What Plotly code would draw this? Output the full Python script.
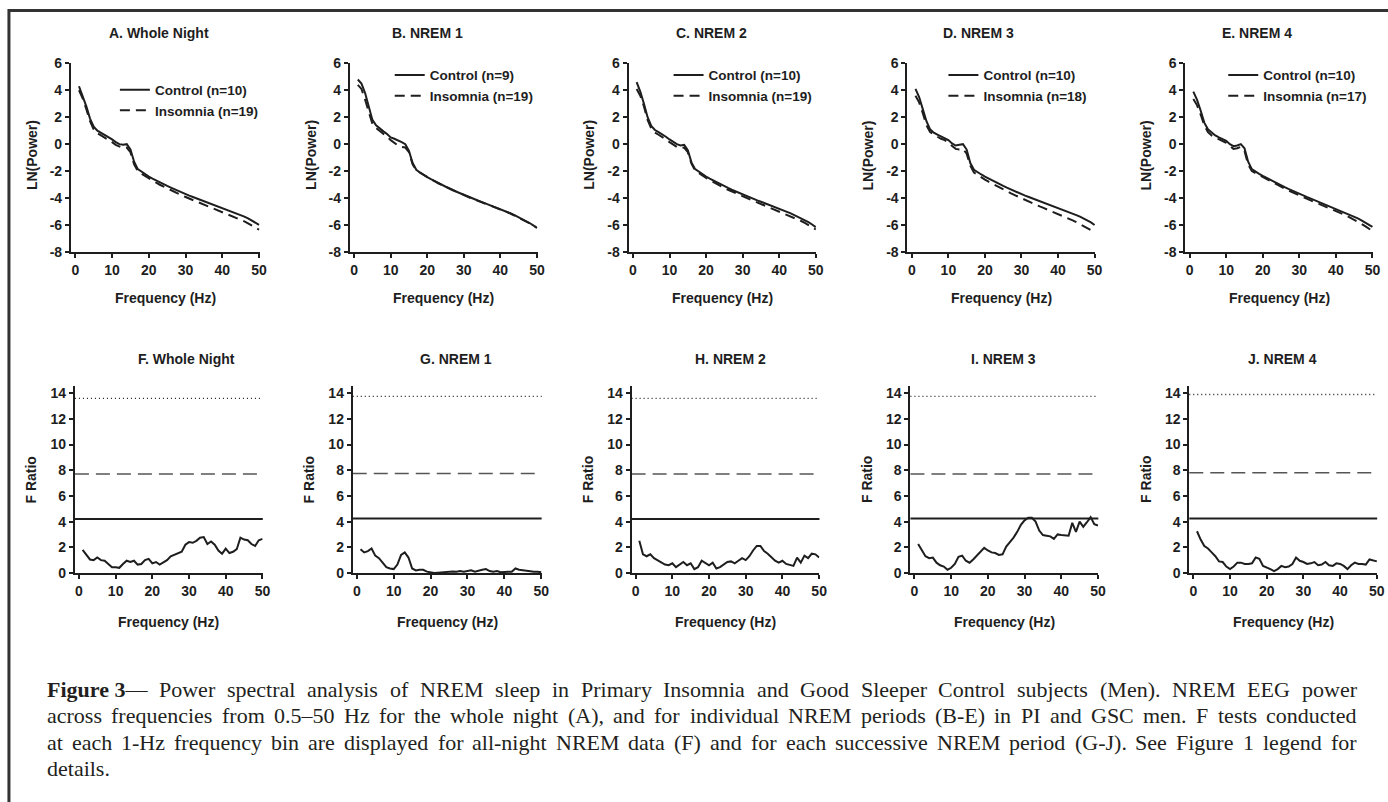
import plotly.graph_objects as go

W, H = 1388, 802

# ---------------- data ----------------
freq = list(range(1, 51))

top_titles = ["A. Whole Night", "B. NREM 1", "C. NREM 2", "D. NREM 3", "E. NREM 4"]
bot_titles = ["F. Whole Night", "G. NREM 1", "H. NREM 2", "I. NREM 3", "J. NREM 4"]
ctrl_n = [10, 9, 10, 10, 10]
ins_n = [19, 19, 19, 18, 17]

ctrl_A = [4.3, 3.6, 2.8, 1.9, 1.3, 1.0, 0.85, 0.7, 0.55, 0.35, 0.15, 0.0, -0.05, 0.0, -0.4, -1.3, -1.85, -2.05, -2.25, -2.4,
          -2.55, -2.7, -2.85, -2.98, -3.1, -3.22, -3.35, -3.47, -3.6, -3.72, -3.82, -3.92, -4.02, -4.12, -4.22, -4.32, -4.42,
          -4.52, -4.62, -4.72, -4.82, -4.92, -5.03, -5.14, -5.25, -5.37, -5.5, -5.64, -5.8, -5.98]
ins_A = [4.0, 3.4, 2.6, 1.7, 1.1, 0.8, 0.65, 0.5, 0.35, 0.15, -0.05, -0.2, -0.3, -0.25, -0.6, -1.5, -2.0, -2.2, -2.38, -2.55,
         -2.7, -2.86, -3.01, -3.15, -3.28, -3.41, -3.54, -3.67, -3.8, -3.92, -4.03, -4.14, -4.25, -4.36, -4.47, -4.58, -4.69,
         -4.8, -4.91, -5.02, -5.13, -5.24, -5.36, -5.48, -5.6, -5.73, -5.87, -6.02, -6.18, -6.35]
ctrl_B = [4.8, 4.5, 3.8, 2.7, 1.8, 1.4, 1.15, 0.95, 0.75, 0.5, 0.4, 0.3, 0.15, 0.0, -0.5, -1.4, -1.9, -2.1, -2.3, -2.45,
          -2.6, -2.75, -2.9, -3.03, -3.16, -3.29, -3.42, -3.54, -3.66, -3.78, -3.89, -4.0, -4.1, -4.2, -4.3, -4.4, -4.5,
          -4.6, -4.7, -4.81, -4.92, -5.03, -5.15, -5.28, -5.41, -5.55, -5.7, -5.85, -6.02, -6.2]
ins_B = [4.4, 4.1, 3.3, 2.3, 1.5, 1.2, 1.0, 0.8, 0.55, 0.3, 0.1, -0.1, -0.2, -0.25, -0.6, -1.5, -1.95, -2.12, -2.3, -2.45,
         -2.6, -2.75, -2.9, -3.03, -3.16, -3.29, -3.42, -3.55, -3.67, -3.79, -3.9, -4.01, -4.11, -4.21, -4.32, -4.42, -4.52,
         -4.62, -4.72, -4.83, -4.94, -5.06, -5.18, -5.31, -5.44, -5.58, -5.72, -5.87, -6.03, -6.22]
ctrl_C = [4.6, 3.9, 3.0, 2.0, 1.35, 1.05, 0.9, 0.75, 0.55, 0.35, 0.15, 0.0, -0.1, -0.05, -0.45, -1.35, -1.85, -2.05, -2.25, -2.4,
          -2.55, -2.7, -2.85, -2.99, -3.12, -3.25, -3.38, -3.5, -3.62, -3.74, -3.85, -3.96, -4.07, -4.17, -4.27, -4.37, -4.47,
          -4.57, -4.67, -4.78, -4.89, -5.0, -5.12, -5.24, -5.37, -5.5, -5.64, -5.79, -5.96, -6.15]
ins_C = [4.1, 3.6, 2.8, 1.8, 1.15, 0.85, 0.7, 0.55, 0.35, 0.15, -0.05, -0.2, -0.3, -0.25, -0.6, -1.45, -1.95, -2.15, -2.35, -2.5,
         -2.66, -2.82, -2.97, -3.11, -3.25, -3.38, -3.51, -3.64, -3.76, -3.88, -3.99, -4.1, -4.21, -4.32, -4.43, -4.54, -4.65,
         -4.76, -4.87, -4.98, -5.09, -5.2, -5.32, -5.44, -5.57, -5.7, -5.84, -5.99, -6.15, -6.33]
ctrl_D = [4.1, 3.5, 2.6, 1.7, 1.1, 0.85, 0.7, 0.55, 0.45, 0.3, 0.05, -0.1, -0.05, 0.0, -0.4, -1.4, -1.9, -2.1, -2.25, -2.4,
          -2.55, -2.69, -2.83, -2.97, -3.1, -3.23, -3.36, -3.48, -3.6, -3.72, -3.82, -3.92, -4.02, -4.12, -4.22, -4.32, -4.42,
          -4.52, -4.62, -4.72, -4.82, -4.92, -5.03, -5.14, -5.26, -5.38, -5.51, -5.65, -5.81, -6.0]
ins_D = [3.6, 3.1, 2.3, 1.4, 0.9, 0.7, 0.55, 0.4, 0.3, 0.1, -0.15, -0.35, -0.4, -0.35, -0.7, -1.6, -2.1, -2.3, -2.48, -2.63,
         -2.78, -2.93, -3.08, -3.22, -3.36, -3.5, -3.63, -3.76, -3.89, -4.02, -4.14, -4.26, -4.38, -4.5, -4.62, -4.73, -4.84,
         -4.95, -5.06, -5.17, -5.28, -5.4, -5.52, -5.65, -5.78, -5.92, -6.07, -6.22, -6.38, -6.55]
ctrl_E = [3.9, 3.3, 2.5, 1.6, 1.1, 0.85, 0.65, 0.5, 0.4, 0.25, 0.0, -0.15, -0.1, 0.0, -0.3, -1.3, -1.85, -2.05, -2.2, -2.35,
          -2.5, -2.64, -2.78, -2.92, -3.06, -3.19, -3.32, -3.45, -3.57, -3.69, -3.8, -3.91, -4.02, -4.13, -4.24, -4.35, -4.46,
          -4.57, -4.68, -4.79, -4.9, -5.01, -5.13, -5.25, -5.38, -5.51, -5.65, -5.8, -5.96, -6.13]
ins_E = [3.35, 2.9, 2.2, 1.4, 0.9, 0.65, 0.5, 0.35, 0.25, 0.1, -0.15, -0.35, -0.3, -0.2, -0.5, -1.5, -2.0, -2.15, -2.3, -2.45,
         -2.6, -2.75, -2.89, -3.03, -3.17, -3.3, -3.43, -3.56, -3.69, -3.81, -3.93, -4.05, -4.17, -4.28, -4.39, -4.5, -4.61,
         -4.72, -4.84, -4.96, -5.08, -5.2, -5.33, -5.46, -5.6, -5.75, -5.91, -6.08, -6.26, -6.45]

f_F = [1.8, 1.4, 1.05, 1.0, 1.2, 1.0, 0.95, 0.7, 0.45, 0.45, 0.4, 0.7, 0.95, 0.85, 0.95, 0.65, 0.7, 1.0, 1.1, 0.75,
       0.85, 0.65, 0.8, 1.0, 1.3, 1.4, 1.5, 1.65, 2.2, 2.4, 2.35, 2.5, 2.75, 2.8, 2.25, 2.45, 2.2, 1.75, 1.5, 1.9,
       1.55, 1.65, 1.85, 2.75, 2.6, 2.55, 2.25, 2.1, 2.55, 2.65]
f_G = [1.85, 1.6, 1.7, 1.9, 1.35, 1.15, 0.8, 0.45, 0.35, 0.3, 0.65, 1.4, 1.6, 1.2, 0.35, 0.2, 0.25, 0.25, 0.1, 0.05,
       0.0, 0.02, 0.05, 0.1, 0.12, 0.12, 0.1, 0.15, 0.1, 0.15, 0.2, 0.1, 0.2, 0.25, 0.3, 0.15, 0.1, 0.15, 0.05, 0.1,
       0.1, 0.1, 0.35, 0.25, 0.2, 0.15, 0.15, 0.1, 0.1, 0.05]
f_H = [2.5, 1.45, 1.3, 1.45, 1.15, 1.0, 0.85, 0.65, 0.6, 0.75, 0.45, 0.65, 0.85, 0.6, 0.75, 0.3, 0.45, 0.95, 0.75, 0.6,
       0.8, 0.35, 0.45, 0.65, 0.85, 0.9, 0.75, 0.95, 1.15, 1.0, 1.3, 1.75, 2.1, 2.1, 1.7, 1.5, 1.2, 0.95, 0.8, 0.95,
       0.7, 0.6, 0.55, 1.2, 0.8, 1.35, 1.15, 1.5, 1.45, 1.2]
f_I = [2.25, 1.75, 1.3, 1.15, 1.2, 0.8, 0.6, 0.5, 0.25, 0.4, 0.7, 1.25, 1.35, 0.95, 0.8, 1.05, 1.35, 1.6, 1.95, 1.75,
       1.6, 1.55, 1.4, 1.45, 2.05, 2.4, 2.75, 3.2, 3.75, 4.1, 4.3, 4.3, 4.0, 3.3, 2.95, 2.9, 2.85, 2.65, 3.0, 2.95,
       2.9, 2.9, 3.9, 3.2, 4.0, 3.6, 3.95, 4.35, 3.8, 3.7]
f_J = [3.25, 2.6, 2.1, 1.9, 1.6, 1.3, 0.9, 0.85, 0.5, 0.3, 0.5, 0.8, 0.8, 0.7, 0.7, 0.75, 1.2, 1.1, 0.55, 0.45,
       0.3, 0.15, 0.3, 0.55, 0.45, 0.5, 0.7, 1.2, 0.95, 0.85, 0.7, 0.75, 0.85, 0.6, 0.65, 0.85, 0.6, 0.55, 0.75, 0.7,
       0.55, 0.3, 0.6, 0.8, 0.7, 0.7, 0.65, 1.05, 1.0, 0.9]

# critical F values per panel: dotted, dashed, solid
thr_dotted = [13.6, 13.75, 13.6, 13.75, 13.9]
thr_dashed = [7.7, 7.75, 7.7, 7.7, 7.8]
thr_solid = [4.2, 4.25, 4.2, 4.25, 4.25]

x_tick_vals = [0, 10, 20, 30, 40, 50]
x_tick_text = ["0", "10", "20", "30", "40", "50"]
top_y_vals = [-8, -6, -4, -2, 0, 2, 4, 6]
top_y_text = ["-8", "-6", "-4", "-2", "0", "2", "4", "6"]
bot_y_vals = [0, 2, 4, 6, 8, 10, 12, 14]
bot_y_text = ["0", "2", "4", "6", "8", "10", "12", "14"]

caption_lines = [
    "Figure\u00a03\u2014 Power spectral analysis of NREM sleep in Primary Insomnia and Good Sleeper Control subjects (Men). NREM EEG power",
    "across frequencies from 0.5\u201350 Hz for the whole night (A), and for individual NREM periods (B-E) in PI and GSC men. F tests conducted",
    "at each 1-Hz frequency bin are displayed for all-night NREM data (F) and for each successive NREM period (G-J). See Figure 1 legend for",
    "details.",
]

ctrl_all = [ctrl_A, ctrl_B, ctrl_C, ctrl_D, ctrl_E]
ins_all = [ins_A, ins_B, ins_C, ins_D, ins_E]
f_all = [f_F, f_G, f_H, f_I, f_J]

# ---------------- layout helpers (picture pixel -> paper) ----------------
# the photographed page comes out slightly scaled; these factors undo that
SX, OX = 0.9948, 0.05
SY, OY = 0.9817, 7.6


def px(x):
    return ((x - OX) / SX) / W


def py(y):
    return 1 - ((y - OY) / SY) / H


SANS = "Liberation Sans, Arial, sans-serif"
SERIF = "Liberation Serif, Times New Roman, serif"
INK = "#1e1e1e"
FS = 14
FS_LEG = 13.5

top_dom_x = [(71, 260), (350, 538), (629, 817), (908, 1096), (1186, 1374)]
bot_dom_x = [(75, 263), (353, 542), (632, 820), (911, 1099), (1190, 1378)]
top_dom_y = (63, 252)
bot_dom_y = (386, 573.5)
top_title_x = [159, 428, 712, 979, 1258]
bot_title_x = [187, 456, 731, 1004, 1283]
legend_pos = [(115, 74.2), (390, 59.5), (669, 59.5), (944, 59.5), (1224, 59.5)]

fig = go.Figure()
layout = dict(
    width=W, height=H, margin=dict(l=0, r=0, t=0, b=0),
    paper_bgcolor="white", plot_bgcolor="white",
    font=dict(family=SANS, size=FS, color=INK, weight="bold"),
    showlegend=True,
)

annotations = []
shapes = []


def axis_common():
    return dict(
        showline=True, linewidth=2, linecolor=INK, showgrid=False, zeroline=False,
        ticks="outside", ticklen=4, tickwidth=1.5, tickcolor=INK,
        tickfont=dict(family=SANS, size=FS, color=INK, weight="bold"),
        fixedrange=True,
    )


for i in range(5):
    # top panel
    k = i + 1
    xs = "" if k == 1 else str(k)
    lg = "legend" if k == 1 else f"legend{k}"
    fig.add_trace(go.Scatter(
        x=freq, y=ctrl_all[i], mode="lines", name=f"Control (n={ctrl_n[i]})",
        line=dict(color=INK, width=2), xaxis=f"x{xs}", yaxis=f"y{xs}", legend=lg,
    ))
    fig.add_trace(go.Scatter(
        x=freq, y=ins_all[i], mode="lines", name=f"Insomnia (n={ins_n[i]})",
        line=dict(color=INK, width=2, dash="10px,6px"), xaxis=f"x{xs}", yaxis=f"y{xs}", legend=lg,
    ))
    xa = axis_common()
    xa.update(domain=[px(top_dom_x[i][0]), px(top_dom_x[i][1])], range=[-1.2, 50.2],
              tickvals=x_tick_vals, ticktext=x_tick_text, anchor=f"y{xs}")
    ya = axis_common()
    ya.update(domain=[py(top_dom_y[1]), py(top_dom_y[0])], range=[-8, 6],
              tickvals=top_y_vals, ticktext=top_y_text, anchor=f"x{xs}")
    layout[f"xaxis{xs}"] = xa
    layout[f"yaxis{xs}"] = ya
    lx, ly = legend_pos[i]
    layout[lg] = dict(
        x=px(lx), y=py(ly), xanchor="left", yanchor="top", bgcolor="rgba(0,0,0,0)",
        borderwidth=0, tracegroupgap=0, itemwidth=30,
        font=dict(family=SANS, size=FS_LEG, color=INK, weight="bold"),
    )
    annotations.append(dict(text=top_titles[i], x=px(top_title_x[i]), y=py(33), xref="paper", yref="paper",
                            showarrow=False, xanchor="center", yanchor="middle"))
    cx = (top_dom_x[i][0] + top_dom_x[i][1]) / 2
    annotations.append(dict(text="Frequency (Hz)", x=px(cx), y=py(298), xref="paper", yref="paper",
                            showarrow=False, xanchor="center", yanchor="middle"))
    annotations.append(dict(text="LN(Power)", x=px(top_dom_x[i][0] - 39), y=py(155), xref="paper", yref="paper",
                            showarrow=False, xanchor="center", yanchor="middle", textangle=-90))

    # bottom panel
    k2 = i + 6
    xs2 = str(k2)
    fig.add_trace(go.Scatter(
        x=freq, y=f_all[i], mode="lines", showlegend=False,
        line=dict(color=INK, width=2), xaxis=f"x{xs2}", yaxis=f"y{xs2}",
    ))
    xa = axis_common()
    xa.update(domain=[px(bot_dom_x[i][0]), px(bot_dom_x[i][1])], range=[-1.1, 50.1],
              tickvals=x_tick_vals, ticktext=x_tick_text, anchor=f"y{xs2}")
    ya = axis_common()
    ya.update(domain=[py(bot_dom_y[1]), py(bot_dom_y[0])], range=[0, 14.58],
              tickvals=bot_y_vals, ticktext=bot_y_text, anchor=f"x{xs2}")
    layout[f"xaxis{xs2}"] = xa
    layout[f"yaxis{xs2}"] = ya
    for val, dash, col, wid in [(thr_dotted[i], "1px,3px", INK, 1.3),
                                (thr_dashed[i], "14px,7px", "#555555", 1.5),
                                (thr_solid[i], "solid", INK, 2)]:
        shapes.append(dict(type="line", xref=f"x{xs2} domain", yref=f"y{xs2}", x0=0, x1=1, y0=val, y1=val,
                           line=dict(color=col, width=wid, dash=dash), layer="below"))
    annotations.append(dict(text=bot_titles[i], x=px(bot_title_x[i]), y=py(359), xref="paper", yref="paper",
                            showarrow=False, xanchor="center", yanchor="middle"))
    cx = (bot_dom_x[i][0] + bot_dom_x[i][1]) / 2
    annotations.append(dict(text="Frequency (Hz)", x=px(cx), y=py(623), xref="paper", yref="paper",
                            showarrow=False, xanchor="center", yanchor="middle"))
    annotations.append(dict(text="F Ratio", x=px(bot_dom_x[i][0] - 44), y=py(480), xref="paper", yref="paper",
                            showarrow=False, xanchor="center", yanchor="middle", textangle=-90))

# ---------------- caption (justified, Times metrics) ----------------
TNR = {' ': 250, '(': 333, ')': 333, ',': 250, '-': 333, '.': 250, ':': 278, '\u2013': 500, '\u2014': 1000}
for c in "0123456789":
    TNR[c] = 500
TNR.update(dict(zip("ABCDEFGHIJKLMNOPQRSTUVWXYZ",
                    [722, 667, 667, 722, 611, 556, 722, 722, 333, 389, 722, 611, 889, 722, 722, 556, 722, 667, 556,
                     611, 722, 722, 944, 722, 722, 611])))
TNR.update(dict(zip("abcdefghijklmnopqrstuvwxyz",
                    [444, 500, 444, 500, 444, 333, 500, 500, 278, 278, 500, 278, 778, 500, 500, 500, 500, 333, 389,
                     278, 500, 500, 722, 500, 500, 444])))
TNRB = {'F': 611, 'i': 278, 'g': 500, 'u': 556, 'r': 444, 'e': 444, ' ': 250, '3': 500}

CAP_FS = 22
cap_left, cap_right = 47, 1357
cap_y = [690, 716.5, 743, 769.5]


def word_width(w):
    if w.startswith("Figure\u00a0"):
        head = "Figure 3"
        return (sum(TNRB[c] for c in head) + sum(TNR.get(c, 500) for c in w[len(head):])) / 1000 * CAP_FS
    return sum(TNR.get(c, 500) for c in w) / 1000 * CAP_FS


for li, line in enumerate(caption_lines):
    words = line.split(" ")
    widths = [word_width(w) * SX for w in words]
    justify = li < len(caption_lines) - 1 and len(words) > 1
    gap = (cap_right - cap_left - sum(widths)) / (len(words) - 1) if justify else TNR[' '] / 1000 * CAP_FS * SX
    xpos = cap_left
    for w, wd in zip(words, widths):
        txt = w.replace("Figure\u00a03", "<b>Figure 3</b>")
        annotations.append(dict(text=txt, x=px(xpos), y=py(cap_y[li]), xref="paper", yref="paper",
                                showarrow=False, xanchor="left", yanchor="middle", borderpad=0, borderwidth=0,
                                font=dict(family=SERIF, size=CAP_FS, color="#231f20", weight="normal")))
        xpos += wd + gap

# frame (left and top edges visible; the rest runs off the picture)
shapes.append(dict(type="rect", xref="paper", yref="paper", x0=px(9), x1=px(1440), y0=py(860), y1=py(10),
                   line=dict(color="#333333", width=3), fillcolor="rgba(0,0,0,0)"))

layout["annotations"] = annotations
layout["shapes"] = shapes
fig.update_layout(**layout)

# let the figure fill the window exactly (no default page margin, no scrollbars)
page_js = ("document.documentElement.style.margin='0';document.documentElement.style.padding='0';"
           "document.documentElement.style.overflow='hidden';"
           "document.body.style.margin='0';document.body.style.padding='0';document.body.style.overflow='hidden';")
fig.write_html("out.html", post_script=page_js, config={"displayModeBar": False})
